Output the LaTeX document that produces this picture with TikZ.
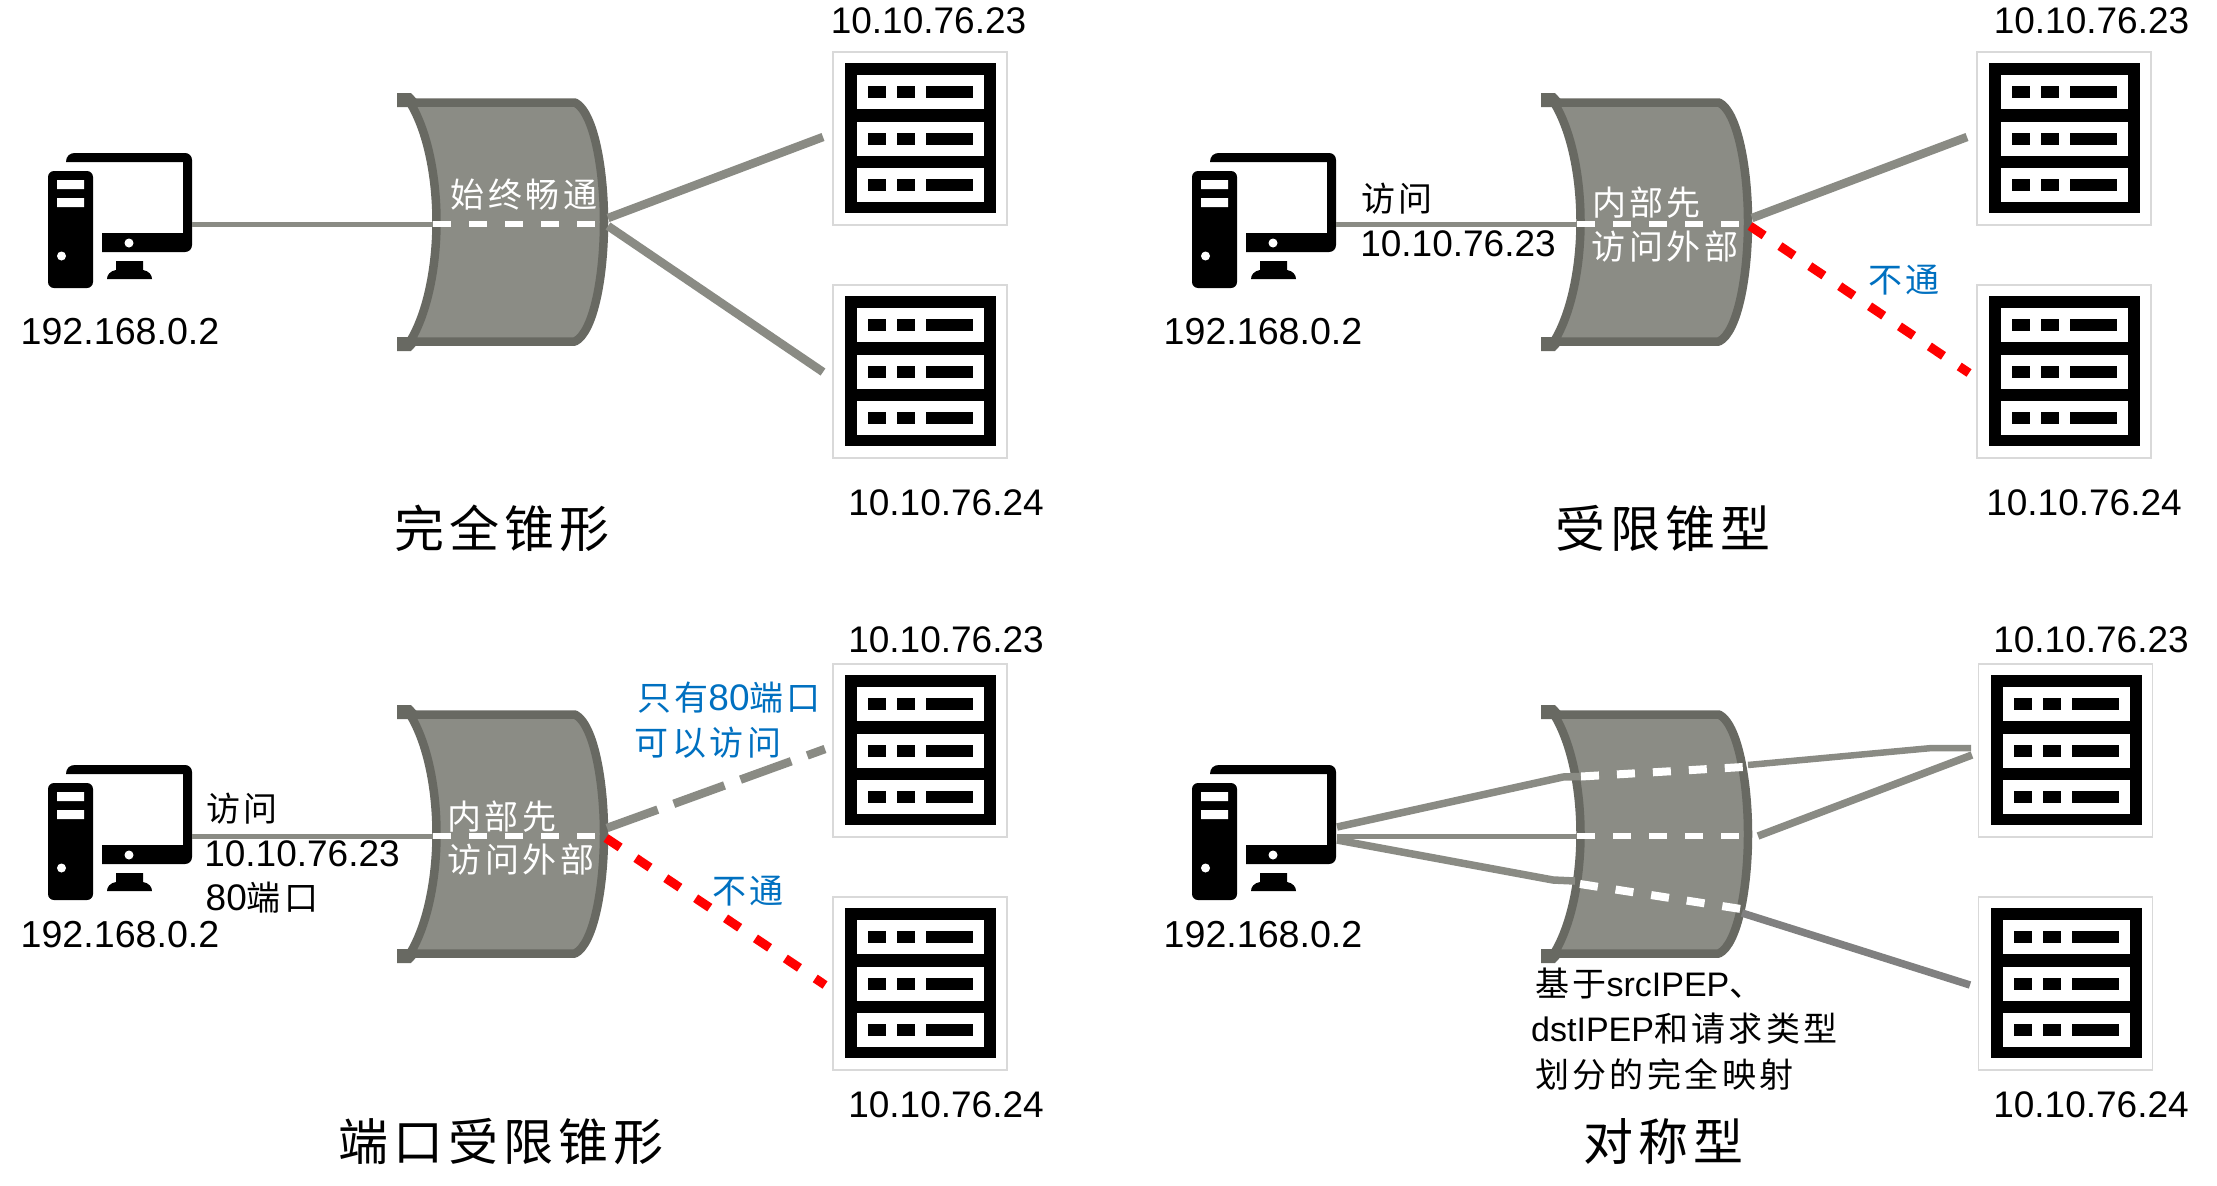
\documentclass[tikz,border=0pt]{standalone}
\usepackage{fontspec}
\setmainfont{Liberation Sans}
\newfontfamily\cjk[LetterSpace=10]{Noto Sans CJK SC}
\definecolor{wallfill}{HTML}{8B8C85}
\definecolor{wallrim}{HTML}{686962}
\definecolor{linkgrey}{HTML}{8A8B84}
\definecolor{noteblue}{HTML}{0070C0}
\tikzset{
  % the firewall, at the place it has in the first panel
  natwall/.pic={
    \fill[wallrim] (397,93) -- (411,93) -- (424,107) -- (397,107) -- cycle;
    \fill[wallrim] (397,351) -- (411,351) -- (424,337) -- (397,337) -- cycle;
    \draw[line width=8.5pt,draw=wallrim,fill=wallfill,line join=round]
      (410,102.5) -- (575,102.5)
      .. controls (594,112) and (604,170) .. (604,222)
      .. controls (604,275) and (594,332) .. (575,341.5)
      -- (410,341.5)
      .. controls (428,312) and (436.5,265) .. (436.5,222)
      .. controls (436.5,178) and (428,132) .. (410,102.5) -- cycle;
  },
  % the computer, at the place it has in the first panel
  natpc/.pic={
    \fill (66,162) .. controls (66,156) and (70,153) .. (75,153) -- (185,153)
      .. controls (189,153) and (192,156) .. (192,160) -- (192,245)
      .. controls (192,249) and (189,252) .. (185,252) -- (102,252) -- (102,233)
      -- (183,233) -- (183,162) -- cycle;
    \fill[rounded corners=6pt] (48,171) rectangle (93,288);
    \fill[white] (57,180) rectangle (84,189) (57,198) rectangle (84,207);
    \fill[white] (61.5,256) circle (4.5) (129,243) circle (4.5);
    \fill (116,261) -- (143,261) -- (143,270) .. controls (149,271) and (152,275) .. (152,279)
      -- (107,279) .. controls (107,275) and (110,271) .. (116,270) -- cycle;
  },
  % the server, around its own centre
  natserver/.pic={
    \draw[draw=black!15,line width=1.2pt,fill=white] (-87,-86.5) rectangle (87,86.5);
    \fill (-75,-75.5) rectangle (76,74.5);
    \foreach \rowy in {-46.5,0,46.5} {
      \fill[white] (-63,\rowy-17) rectangle (64,\rowy+17);
      \fill (-52,\rowy-6) rectangle (-34,\rowy+6);
      \fill (-23,\rowy-6) rectangle (-5,\rowy+6);
      \fill (6,\rowy-6) rectangle (53,\rowy+6);
    }
  },
  linkline/.style={draw=linkgrey,line width=8.5pt},
  linkthin/.style={draw=linkgrey,line width=5pt},
  passline/.style={draw=white,line width=5.5pt,dash pattern=on 18pt off 18pt},
  blockline/.style={draw=red,line width=9pt,dash pattern=on 17pt off 19pt},
  partline/.style={draw=linkgrey,line width=8.5pt,dash pattern=on 54pt off 17pt},
  iplabel/.style={font=\fontsize{37}{37}\selectfont,inner sep=0pt},
  pclabel/.style={font=\fontsize{37.6}{37.6}\selectfont,inner sep=0pt},
  titlelabel/.style={font=\fontsize{50}{50}\selectfont\cjk,inner sep=0pt},
  notelabel/.style={font=\fontsize{34}{34}\selectfont,inner sep=0pt},
  walllabel/.style={notelabel,text=white},
  bluelabel/.style={notelabel,text=noteblue},
}
\begin{document}
\begin{tikzpicture}[x=1pt,y=-1pt]
  \useasboundingbox (0,0) rectangle (2217,1186);
  % first panel
  \pic at (0,0) {natwall};
  \pic at (0,0) {natpc};
  \pic at (920,138.5) {natserver};
  \pic at (920,371.5) {natserver};
  \coordinate (pcA) at (192,224);
  \coordinate (inA) at (433,224);
  \coordinate (outA) at (596,224);
  \coordinate (rimAa) at (608,218);
  \coordinate (rimAb) at (608,226);
  \coordinate (srvAa) at (823,137);
  \coordinate (srvAb) at (823,372);
  \draw[linkthin] (pcA) -- (inA);
  \draw[passline] (inA) -- (outA);
  \draw[linkline] (rimAa) -- (srvAa);
  \draw[linkline] (rimAb) -- (srvAb);
  \node (ipAa) [iplabel] at (928.5,21) {10.10.76.23};
  \node (ipAb) [iplabel] at (946,502.5) {10.10.76.24};
  \node (ipAc) [pclabel] at (120,332) {192.168.0.2};
  \node (noteA) [walllabel] at (524,195) {\cjk 始终畅通};
  \node (titleA) [titlelabel] at (502,528) {完全锥形};
  % second panel
  \pic at (1144,0) {natwall};
  \pic at (1144,0) {natpc};
  \pic at (2064,138.5) {natserver};
  \pic at (2064,371.5) {natserver};
  \coordinate (pcB) at (1336,224);
  \coordinate (inB) at (1577,224);
  \coordinate (outB) at (1740,224);
  \coordinate (rimBa) at (1752,218);
  \coordinate (rimBb) at (1750,226);
  \coordinate (srvBa) at (1967,137);
  \coordinate (srvBb) at (1969,373);
  \draw[linkthin] (pcB) -- (inB);
  \draw[passline] (inB) -- (outB);
  \draw[linkline] (rimBa) -- (srvBa);
  \draw[blockline] (rimBb) -- (srvBb);
  \node (ipBa) [iplabel] at (2091.5,21) {10.10.76.23};
  \node (ipBb) [iplabel] at (2084,502.5) {10.10.76.24};
  \node (ipBc) [pclabel] at (1263,332) {192.168.0.2};
  \node (askB) [notelabel] at (1397,199) {\cjk 访问};
  \node (ipBd) [iplabel] at (1458,244) {10.10.76.23};
  \node (noteBa) [walllabel] at (1646.5,203) {\cjk 内部先};
  \node (noteBb) [walllabel] at (1665,247) {\cjk 访问外部};
  \node (denyB) [bluelabel] at (1904,280) {\cjk 不通};
  \node (titleB) [titlelabel] at (1663,528) {受限锥型};
  % third panel
  \pic at (0,612) {natwall};
  \pic at (0,612) {natpc};
  \pic at (920,750.5) {natserver};
  \pic at (920,983.5) {natserver};
  \coordinate (pcC) at (192,836);
  \coordinate (inC) at (433,836);
  \coordinate (outC) at (596,836);
  \coordinate (rimCa) at (607,828);
  \coordinate (rimCb) at (606,838);
  \coordinate (srvCa) at (825,749);
  \coordinate (srvCb) at (825,985);
  \draw[linkthin] (pcC) -- (inC);
  \draw[passline] (inC) -- (outC);
  \draw[partline] (rimCa) -- (srvCa);
  \draw[blockline] (rimCb) -- (srvCb);
  \node (ipCa) [iplabel] at (946,640) {10.10.76.23};
  \node (ipCb) [iplabel] at (946,1104.5) {10.10.76.24};
  \node (ipCc) [pclabel] at (120,935) {192.168.0.2};
  \node (askC) [notelabel] at (242,809) {\cjk 访问};
  \node (ipCd) [iplabel] at (302,854) {10.10.76.23};
  \node (portC) [notelabel] at (262,898) {\fontsize{37}{37}\selectfont 80\fontsize{34}{34}\selectfont\cjk 端口};
  \node (noteCa) [walllabel] at (502,817) {\cjk 内部先};
  \node (noteCb) [walllabel] at (521,860) {\cjk 访问外部};
  \node (onlyCa) [bluelabel] at (729,698) {{\cjk 只有}\fontsize{37}{37}\selectfont 80\fontsize{34}{34}\selectfont\cjk 端口};
  \node (onlyCb) [bluelabel] at (708,743) {\cjk 可以访问};
  \node (denyC) [bluelabel] at (748,891) {\cjk 不通};
  \node (titleC) [titlelabel] at (501,1141.5) {端口受限锥形};
  % fourth panel
  \pic at (1144,612) {natwall};
  \pic at (1144,612) {natpc};
  \pic at (2065.5,750.5) {natserver};
  \pic at (2065.5,983.5) {natserver};
  \coordinate (pcDa) at (1337,827);
  \coordinate (pcDb) at (1337,836);
  \coordinate (pcDc) at (1337,840);
  \coordinate (upDa) at (1563,777);
  \coordinate (upDb) at (1581,776.5);
  \coordinate (upDc) at (1743,767);
  \coordinate (upDd) at (1748,765);
  \coordinate (upDe) at (1932,748);
  \coordinate (srvDa) at (1971,748);
  \coordinate (srvDb) at (1972,755);
  \coordinate (midDa) at (1577,836);
  \coordinate (midDb) at (1739,836);
  \coordinate (midDc) at (1758,836);
  \coordinate (lowDa) at (1553,880);
  \coordinate (lowDb) at (1575,881);
  \coordinate (lowDc) at (1580,884);
  \coordinate (lowDd) at (1741,909);
  \coordinate (lowDe) at (1742,913);
  \coordinate (srvDc) at (1970,985);
  \draw[linkline,line width=7.5pt,line join=round] (pcDa) -- (upDa) -- (upDb);
  \draw[linkline,line width=6.5pt,line join=round] (upDd) -- (upDe) -- (srvDa);
  \draw[passline,line width=8pt] (upDb) -- (upDc);
  \draw[linkthin] (pcDb) -- (midDa);
  \draw[passline] (midDa) -- (midDb);
  \draw[linkline,line width=7.5pt] (midDc) -- (srvDb);
  \draw[linkline,line width=7.5pt,line join=round] (pcDc) -- (lowDa) -- (lowDb);
  \draw[passline,line width=8pt] (lowDc) -- (lowDd);
  \draw[linkline,line width=7.5pt,draw=black!50] (lowDe) -- (srvDc);
  \node (ipDa) [iplabel] at (2091,640) {10.10.76.23};
  \node (ipDb) [iplabel] at (2091,1104.5) {10.10.76.24};
  \node (ipDc) [pclabel] at (1263,935) {192.168.0.2};
  \node (ruleDa) [notelabel,anchor=west] at (1535,983.5) {{\cjk 基于}srcIPEP\cjk 、};
  \node (ruleDb) [notelabel,anchor=west] at (1531,1028.5) {dstIPEP\cjk 和请求类型};
  \node (ruleDc) [notelabel,anchor=west] at (1535,1074.5) {\cjk 划分的完全映射};
  \node (titleD) [titlelabel] at (1663,1142) {对称型};
\end{tikzpicture}
\end{document}
